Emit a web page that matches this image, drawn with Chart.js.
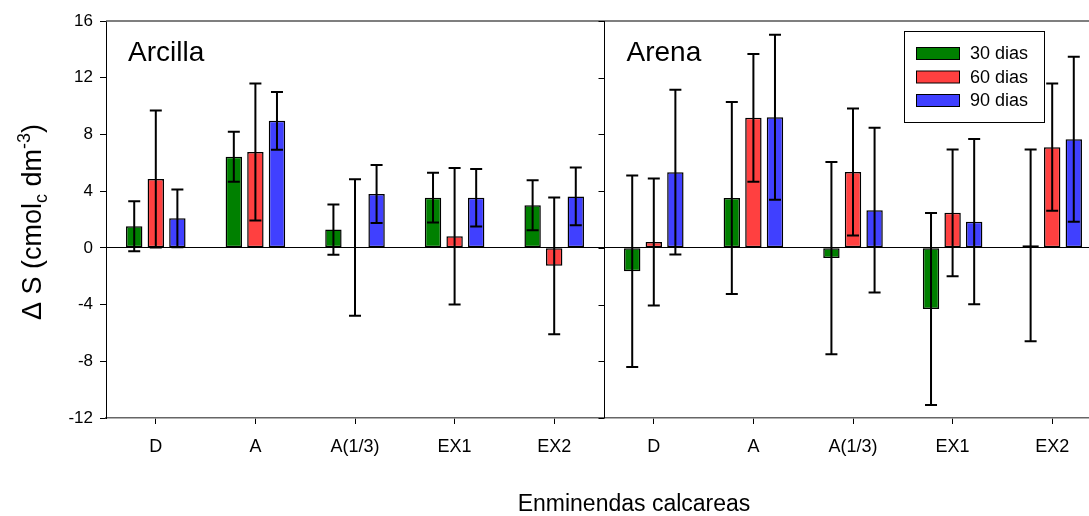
<!DOCTYPE html>
<html><head><meta charset="utf-8">
<script src="https://cdn.jsdelivr.net/npm/chart.js@4.4.0/dist/chart.umd.min.js"></script>
<style>
html,body{margin:0;padding:0;overflow:hidden;background:#fff;width:1089px;height:516px}
#wrap{position:absolute;left:0;top:0;width:1102px;height:516px}
canvas{display:block}
</style></head>
<body><div id="wrap"><canvas id="c" width="1102" height="516"></canvas></div>
<script>
const categories = ['D', 'A', 'A(1/3)', 'EX1', 'EX2'];
const panelTitles = ['Arcilla', 'Arena'];
const seriesLabels = ['30 dias', '60 dias', '90 dias'];
const seriesColors = ['rgb(0,128,0)', 'rgb(255,64,64)', 'rgb(64,64,255)'];

const arcilla30 = [1.52, 6.43, 1.29, 3.54, 3.00];
const arcilla60 = [4.86, 6.76, 0.02, 0.82, -1.27];
const arcilla90 = [2.08, 8.96, 3.80, 3.54, 3.63];
const arena30 = [-1.65, 3.52, -0.72, -4.31, 0.18];
const arena60 = [0.42, 9.17, 5.35, 2.47, 7.10];
const arena90 = [5.34, 9.21, 2.66, 1.85, 7.66];

const arcillaErr30 = [1.76, 1.76, 1.77, 1.76, 1.76];
const arcillaErr60 = [4.83, 4.83, 4.81, 4.82, 4.82];
const arcillaErr90 = [2.03, 2.04, 2.04, 2.03, 2.04];
const arenaErr30 = [6.76, 6.77, 6.78, 6.77, 6.76];
const arenaErr60 = [4.48, 4.50, 4.48, 4.47, 4.49];
const arenaErr90 = [5.81, 5.82, 5.81, 5.82, 5.81];

const yTicks = [-12, -8, -4, 0, 4, 8, 12, 16];

const labels = categories.concat(categories);
const values = [arcilla30.concat(arena30), arcilla60.concat(arena60), arcilla90.concat(arena90)];
const errors = [arcillaErr30.concat(arenaErr30), arcillaErr60.concat(arenaErr60), arcillaErr90.concat(arenaErr90)];

const FONT = "'Liberation Sans', Arial, sans-serif";

const decor = {
  id: 'decor',
  afterDatasetsDraw(chart) {
    const ctx = chart.ctx, ca = chart.chartArea, ys = chart.scales.y, xs = chart.scales.x;
    ctx.save();
    // error bars
    ctx.strokeStyle = '#000';
    ctx.lineWidth = 2;
    chart.data.datasets.forEach((ds, i) => {
      const meta = chart.getDatasetMeta(i);
      meta.data.forEach((bar, j) => {
        const v = ds.data[j], e = ds.errors[j];
        const yt = ys.getPixelForValue(v + e), yb = ys.getPixelForValue(v - e);
        ctx.beginPath();
        ctx.moveTo(bar.x, yt); ctx.lineTo(bar.x, yb);
        ctx.moveTo(bar.x - 6, yt); ctx.lineTo(bar.x + 6, yt);
        ctx.moveTo(bar.x - 6, yb); ctx.lineTo(bar.x + 6, yb);
        ctx.stroke();
      });
    });
    // top border
    ctx.strokeStyle = '#555';
    ctx.lineWidth = 1.5;
    ctx.beginPath(); ctx.moveTo(ca.left, ca.top); ctx.lineTo(ca.right, ca.top); ctx.stroke();
    // panel divider
    const xd = Math.round((xs.getPixelForValue(4) + xs.getPixelForValue(5)) / 2) + 0.5;
    ctx.strokeStyle = '#000';
    ctx.lineWidth = 1;
    ctx.beginPath(); ctx.moveTo(xd, ca.top); ctx.lineTo(xd, ca.bottom); ctx.stroke();
    yTicks.forEach(t => {
      const yy = Math.round(ys.getPixelForValue(t)) + 0.5;
      ctx.beginPath(); ctx.moveTo(xd - 6, yy); ctx.lineTo(xd, yy); ctx.stroke();
    });
    // panel titles
    ctx.fillStyle = '#000';
    ctx.font = '28px ' + FONT;
    ctx.textBaseline = 'alphabetic';
    ctx.textAlign = 'left';
    ctx.fillText(panelTitles[0], ca.left + 22, 61);
    ctx.fillText(panelTitles[1], xd + 22, 61);
    // legend
    const lx = 904.5, ly = 31.5, lw = 140, lh = 91;
    ctx.fillStyle = '#fff';
    ctx.fillRect(lx, ly, lw, lh);
    ctx.strokeStyle = '#000';
    ctx.lineWidth = 1;
    ctx.strokeRect(lx, ly, lw, lh);
    ctx.font = '18px ' + FONT;
    ctx.textBaseline = 'middle';
    chart.data.datasets.forEach((ds, i) => {
      const cy = 53.5 + i * 23.5;
      ctx.fillStyle = ds.backgroundColor;
      ctx.fillRect(916.5, cy - 6, 43, 12);
      ctx.strokeRect(916.5, cy - 6, 43, 12);
      ctx.fillStyle = '#000';
      ctx.fillText(ds.label, 970, cy + 1);
    });
    // x title
    ctx.font = '23px ' + FONT;
    ctx.textAlign = 'center';
    ctx.textBaseline = 'alphabetic';
    ctx.fillText('Enminendas calcareas', 634, 511);
    // y title with sub/superscript
    const parts = [
      {t: '\u0394 S (cmol', f: 27, dy: 0},
      {t: 'c', f: 18, dy: 6},
      {t: ' dm', f: 27, dy: 0},
      {t: '-3', f: 18, dy: -11},
      {t: ')', f: 27, dy: 0}
    ];
    let total = 0;
    parts.forEach(p => { ctx.font = p.f + 'px ' + FONT; p.w = ctx.measureText(p.t).width; total += p.w; });
    ctx.translate(41, 222);
    ctx.rotate(-Math.PI / 2);
    ctx.textAlign = 'left';
    let px = -total / 2;
    parts.forEach(p => {
      ctx.font = p.f + 'px ' + FONT;
      ctx.fillText(p.t, px, p.dy);
      px += p.w;
    });
    ctx.restore();
  }
};

const datasets = seriesLabels.map((lab, i) => ({
  label: lab,
  data: values[i],
  errors: errors[i],
  backgroundColor: seriesColors[i],
  borderColor: '#000',
  borderWidth: 1.5,
  borderSkipped: false,
  categoryPercentage: 0.65,
  barPercentage: 0.76
}));

new Chart(document.getElementById('c'), {
  type: 'bar',
  data: { labels: labels, datasets: datasets },
  options: {
    responsive: false,
    animation: false,
    devicePixelRatio: 1,
    layout: { padding: { left: 0, right: 0, top: 21, bottom: 0 } },
    plugins: { legend: { display: false }, tooltip: { enabled: false } },
    scales: {
      x: {
        type: 'category',
        offset: true,
        grid: { display: true, offset: false, drawOnChartArea: false, drawTicks: true, tickLength: 6, color: '#000', tickColor: '#000' },
        border: { display: true, color: '#666', width: 1.5 },
        ticks: { font: { size: 18, family: FONT }, color: '#000', padding: 12, maxRotation: 0, autoSkip: false },
        afterFit: s => { s.height = 98; }
      },
      y: {
        min: -12, max: 16,
        afterBuildTicks: s => { s.ticks = yTicks.map(v => ({ value: v })); },
        grid: {
          drawOnChartArea: true, drawTicks: true, tickLength: 6,
          color: c => (c.tick && c.tick.value === 0) ? '#000' : 'rgba(0,0,0,0)',
          tickColor: '#000', lineWidth: 1
        },
        border: { display: true, color: '#000', width: 1 },
        ticks: { font: { size: 17, family: FONT }, color: '#000', padding: 7 },
        afterFit: s => { s.width = 106; }
      }
    }
  },
  plugins: [decor]
});
</script>
</body></html>
